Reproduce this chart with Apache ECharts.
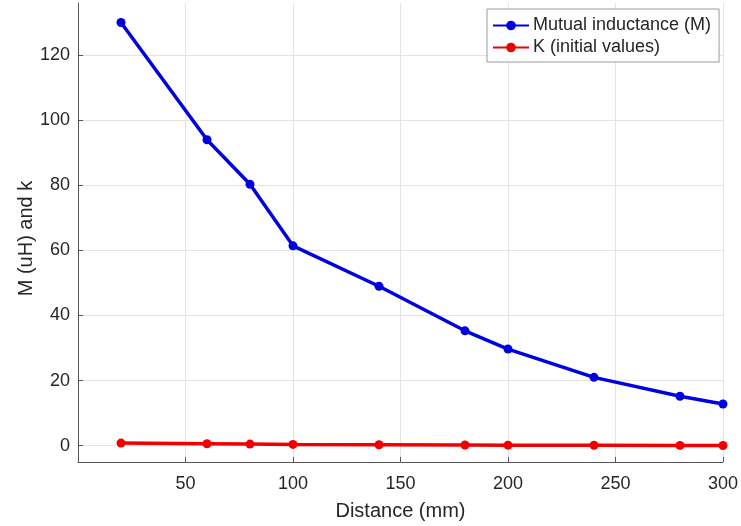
<!DOCTYPE html>
<html>
<head>
<meta charset="utf-8">
<script src="https://cdn.jsdelivr.net/npm/echarts@6/dist/echarts.min.js"></script>
<style>html,body{margin:0;padding:0;background:#fff}#c{width:741px;height:526px}</style>
</head>
<body>
<div id="c"></div>
<script>
const distance = [20, 60, 80, 100, 140, 180, 200, 240, 280, 300];
const mutualInductance = [130, 94, 80.3, 61.4, 49, 35.3, 29.7, 21, 15.2, 12.8];
const kValues = [0.8, 0.6, 0.5, 0.4, 0.3, 0.22, 0.18, 0.13, 0.09, 0.08];
const xTicks = [50, 100, 150, 200, 250, 300];
const yTicks = [0, 20, 40, 60, 80, 100, 120];
const seriesNames = ['Mutual inductance (M)', 'K (initial values)'];

const font = 'Liberation Sans, Arial, sans-serif';
const txt = '#262626';
const chart = echarts.init(document.getElementById('c'), null, {renderer: 'canvas'});
chart.setOption({
  animation: false,
  backgroundColor: '#fff',
  grid: {left: 78, right: 18, top: 3, bottom: 63, containLabel: false},
  legend: {
    left: 487, top: 9,
    orient: 'vertical',
    backgroundColor: '#fff',
    borderColor: '#9a9a9a', borderWidth: 1, borderRadius: 0,
    padding: [7, 8, 5, 5],
    itemWidth: 36, itemHeight: 12, itemGap: 3,
    textStyle: {fontFamily: font, fontSize: 18, color: txt, lineHeight: 19, padding: [0, 0, 0, -1]},
    data: seriesNames
  },
  xAxis: {
    type: 'value', min: 0, max: 300,
    name: 'Distance (mm)', nameLocation: 'middle', nameGap: 39,
    nameTextStyle: {fontFamily: font, fontSize: 20, color: txt},
    axisLine: {show: true, onZero: false, lineStyle: {color: '#555', width: 1}},
    axisTick: {show: true, inside: true, length: 5, customValues: xTicks, lineStyle: {color: '#555'}},
    axisLabel: {fontFamily: font, fontSize: 18, color: txt, margin: 13, customValues: xTicks},
    splitLine: {show: true, lineStyle: {color: '#e3e3e3', width: 1}}
  },
  yAxis: {
    type: 'value', min: -5, max: 136,
    name: 'M (uH) and k', nameLocation: 'middle', nameGap: 42, nameMoveOverlap: false,
    nameTextStyle: {fontFamily: font, fontSize: 20, color: txt, padding: [0, 12, 0, 0]},
    axisLine: {show: true, onZero: false, lineStyle: {color: '#555', width: 1}},
    axisTick: {show: true, inside: true, length: 5, customValues: yTicks, lineStyle: {color: '#555'}},
    axisLabel: {fontFamily: font, fontSize: 18, color: txt, margin: 8, customValues: yTicks},
    splitLine: {show: true, lineStyle: {color: '#e3e3e3', width: 1}}
  },
  series: [
    {
      name: seriesNames[0], type: 'line',
      data: distance.map((d, i) => [d, mutualInductance[i]]),
      color: '#0000e0',
      lineStyle: {width: 3.5, color: '#0000e0'},
      symbol: 'circle', symbolSize: 9,
      itemStyle: {color: '#0000e0'},
      z: 3
    },
    {
      name: seriesNames[1], type: 'line',
      data: distance.map((d, i) => [d, kValues[i]]),
      color: '#f20000',
      lineStyle: {width: 3.5, color: '#f20000'},
      symbol: 'circle', symbolSize: 9,
      itemStyle: {color: '#f20000'},
      z: 3
    }
  ]
});
</script>
</body>
</html>
